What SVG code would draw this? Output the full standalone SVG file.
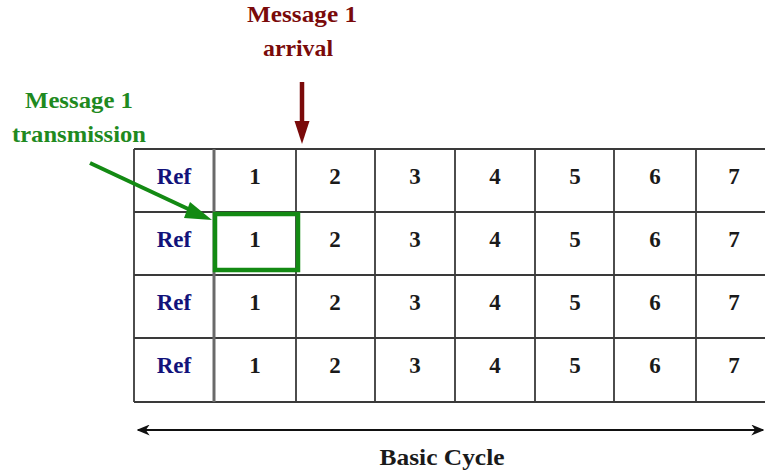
<svg xmlns="http://www.w3.org/2000/svg" width="765" height="471" viewBox="0 0 765 471">
<style>
.t{font-family:"Liberation Serif","Times New Roman",serif;font-weight:bold;text-anchor:middle}
.num{font-size:23px;fill:#1a1a1a}
.ref{font-size:23px;fill:#12127a}
.grid{stroke:#3a3a3a;stroke-width:1.8;fill:none}
.red{fill:#7a0a0a;font-size:24px}
.grn{fill:#1f8a1f;font-size:24px}
</style>
<defs>
<marker id="ah" viewBox="0 0 10 10" refX="9" refY="5" markerWidth="13" markerHeight="11" orient="auto-start-reverse" markerUnits="userSpaceOnUse" preserveAspectRatio="none">
<path d="M0,0 L10,5 L0,10 L3,5 Z" fill="#111"/>
</marker>
<marker id="ahg" viewBox="0 0 10 10" refX="9" refY="5" markerWidth="20" markerHeight="18" orient="auto" markerUnits="userSpaceOnUse" preserveAspectRatio="none">
<path d="M0,0 L10,5 L0,10 Z" fill="#138a13"/>
</marker>
<marker id="ahr" viewBox="0 0 10 10" refX="9" refY="5" markerWidth="22" markerHeight="15" orient="auto" markerUnits="userSpaceOnUse" preserveAspectRatio="none">
<path d="M0,0 L10,5 L0,10 Z" fill="#7a0a0a"/>
</marker>
</defs>
<g id="grid">
<rect x="0" y="0" width="765" height="471" fill="#fff"/>
<path class="grid" d="M134,149H765 M134,212H765 M134,275H765 M134,338H765 M134,402H765 M134,149V402 M296,149V402 M375,149V402 M455,149V402 M535,149V402 M614,149V402 M696,149V402"/>
<path d="M214,149V402" stroke="#6a6a6a" stroke-width="3" fill="none"/>
</g>
<g id="row1" class="t">
<text class="ref" x="174" y="184">Ref</text>
<text class="num" x="255" y="184">1</text><text class="num" x="335" y="184">2</text><text class="num" x="415" y="184">3</text><text class="num" x="495" y="184">4</text><text class="num" x="575" y="184">5</text><text class="num" x="655" y="184">6</text><text class="num" x="734" y="184">7</text>
</g>
<g id="row2" class="t">
<text class="ref" x="174" y="247">Ref</text>
<text class="num" x="255" y="247">1</text><text class="num" x="335" y="247">2</text><text class="num" x="415" y="247">3</text><text class="num" x="495" y="247">4</text><text class="num" x="575" y="247">5</text><text class="num" x="655" y="247">6</text><text class="num" x="734" y="247">7</text>
</g>
<g id="row3" class="t">
<text class="ref" x="174" y="310">Ref</text>
<text class="num" x="255" y="310">1</text><text class="num" x="335" y="310">2</text><text class="num" x="415" y="310">3</text><text class="num" x="495" y="310">4</text><text class="num" x="575" y="310">5</text><text class="num" x="655" y="310">6</text><text class="num" x="734" y="310">7</text>
</g>
<g id="row4" class="t">
<text class="ref" x="174" y="373">Ref</text>
<text class="num" x="255" y="373">1</text><text class="num" x="335" y="373">2</text><text class="num" x="415" y="373">3</text><text class="num" x="495" y="373">4</text><text class="num" x="575" y="373">5</text><text class="num" x="655" y="373">6</text><text class="num" x="734" y="373">7</text>
</g>
<g id="highlight">
<rect x="215" y="214" width="83" height="56" fill="none" stroke="#138a13" stroke-width="4.5"/>
</g>
<g id="label-arrival" class="t red">
<text x="302" y="22" textLength="110" lengthAdjust="spacingAndGlyphs">Message 1</text>
<text x="298" y="56" textLength="70" lengthAdjust="spacingAndGlyphs">arrival</text>
</g>
<g id="label-transmission" class="t grn">
<text x="79" y="108" textLength="108" lengthAdjust="spacingAndGlyphs">Message 1</text>
<text x="79" y="142" textLength="134" lengthAdjust="spacingAndGlyphs">transmission</text>
</g>
<g id="label-cycle" class="t">
<text x="442" y="465" font-size="24" fill="#1a1a1a" textLength="125" lengthAdjust="spacingAndGlyphs">Basic Cycle</text>
</g>
<g id="connectors">
<line x1="302" y1="82" x2="302" y2="128" stroke="#7a0a0a" stroke-width="4.5"/>
<path d="M294.5,121 L309.5,121 L302,144 Z" fill="#7a0a0a"/>
<line x1="90" y1="163" x2="200" y2="214.5" stroke="#138a13" stroke-width="4"/>
<path d="M190,202 L212,220 L184,218 Z" fill="#138a13"/>
<line x1="138" y1="430" x2="763" y2="430" stroke="#111" stroke-width="1.8" marker-start="url(#ah)" marker-end="url(#ah)"/>
</g>
</svg>
